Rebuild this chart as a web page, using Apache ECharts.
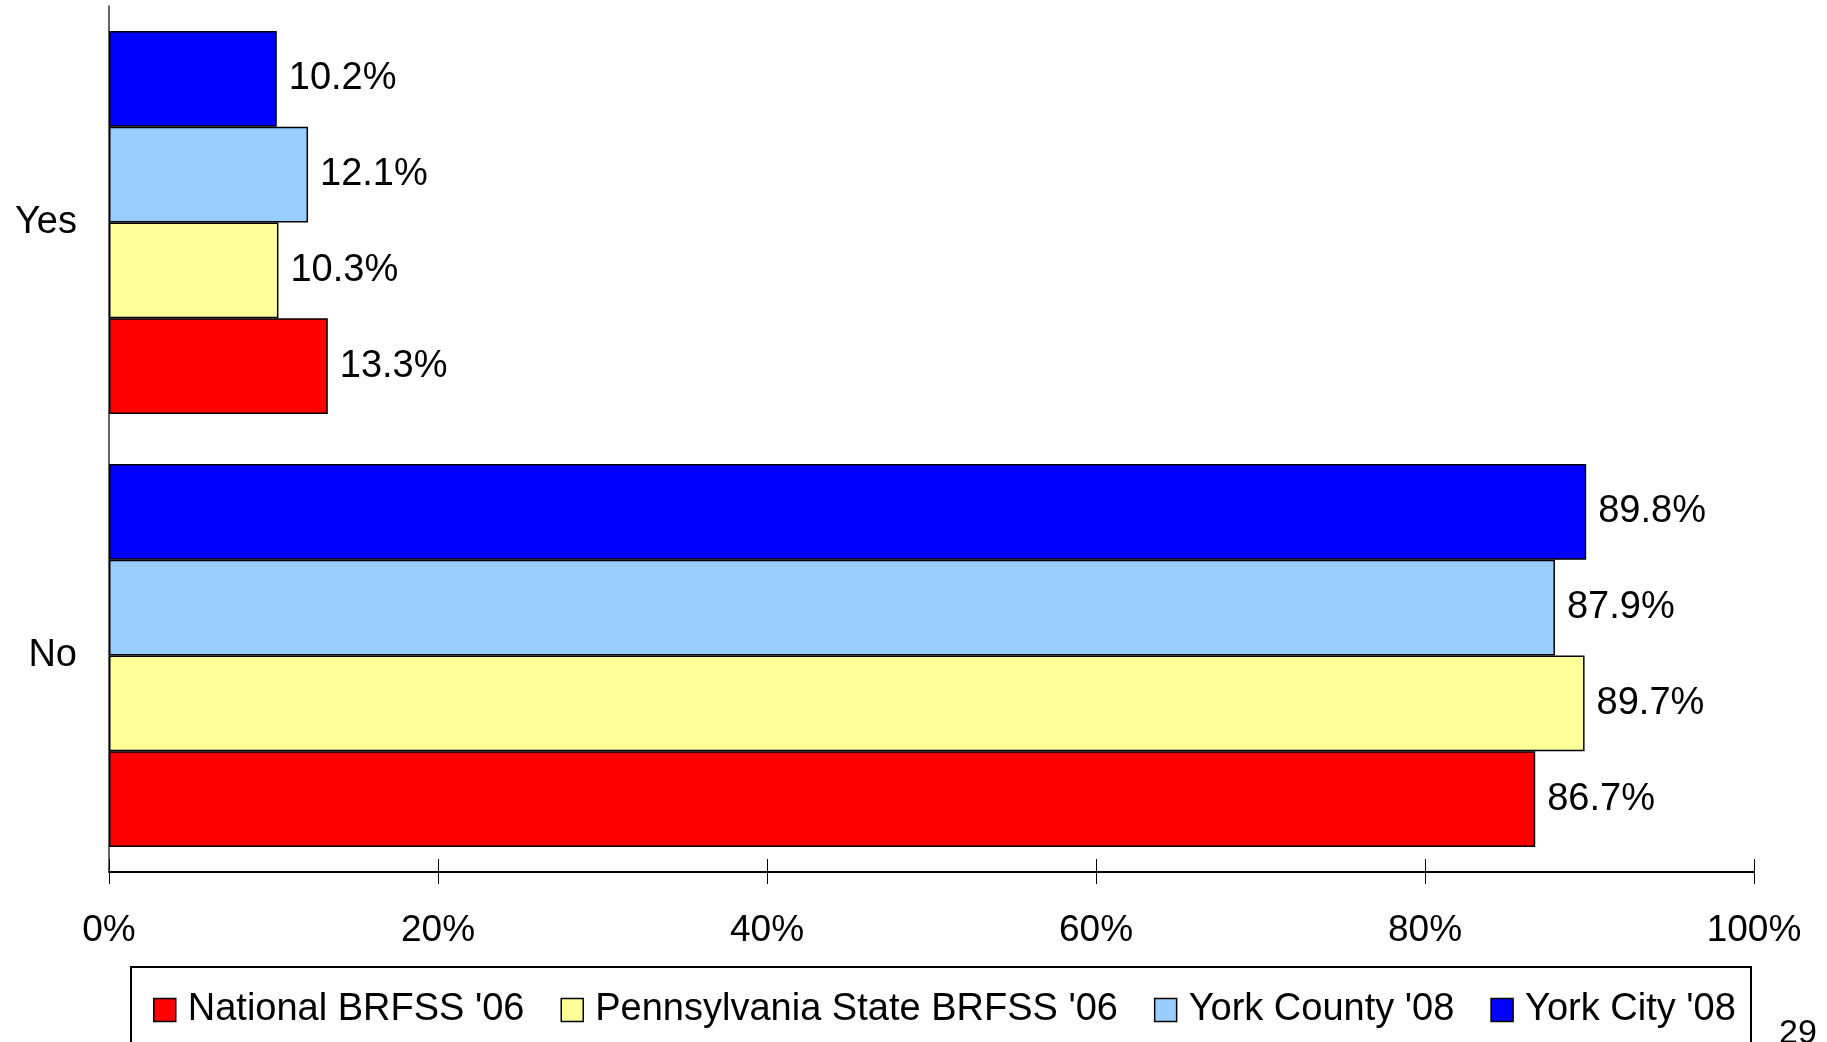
<!DOCTYPE html>
<html>
<head>
<meta charset="utf-8">
<script src="https://cdn.jsdelivr.net/npm/echarts@6/dist/echarts.min.js"></script>
<style>
html,body{margin:0;padding:0;background:#fff;}
#c{width:1827px;height:1042px;}
</style>
</head>
<body>
<div id="c"></div>
<script>
const categories = ['Yes', 'No'];
const seriesNames = ["National BRFSS '06", "Pennsylvania State BRFSS '06", "York County '08", "York City '08"];
const nationalValues = [13.3, 86.7];
const pennsylvaniaValues = [10.3, 89.7];
const yorkCountyValues = [12.1, 87.9];
const yorkCityValues = [10.2, 89.8];
const xTicks = [0, 20, 40, 60, 80, 100];
const colors = ['#FF0000', '#FFFF99', '#99CCFF', '#0000FF'];

const FONT = "'Liberation Sans', Arial, sans-serif";
const chart = echarts.init(document.getElementById('c'), null, {renderer: 'canvas'});
const allValues = [nationalValues, pennsylvaniaValues, yorkCountyValues, yorkCityValues];

// Built in reverse so that York City sits at the top of each category band
const series = seriesNames.map((name, i) => ({
  name: name,
  type: 'bar',
  data: allValues[i],
  barGap: '0%',
  barCategoryGap: '11.5%',
  itemStyle: {color: colors[i], borderColor: '#000', borderWidth: 1.5},
  label: {
    show: true, position: 'right', distance: 12,
    formatter: p => p.value.toFixed(1) + '%',
    color: '#000', fontSize: 38, fontFamily: FONT
  },
  emphasis: {disabled: true},
  animation: false
})).reverse();

chart.setOption({
  animation: false,
  backgroundColor: '#fff',
  grid: {left: 109, right: 73, top: 6, bottom: 170, containLabel: false},
  xAxis: [{
    type: 'value', min: xTicks[0], max: xTicks[xTicks.length - 1], interval: 20,
    axisLine: {show: true, lineStyle: {color: '#000', width: 2}},
    axisTick: {show: true, length: 12, lineStyle: {color: '#000', width: 1}},
    axisLabel: {formatter: '{value}%', color: '#000', fontSize: 37, fontFamily: FONT, margin: 40},
    splitLine: {show: false}
  }, {
    type: 'value', position: 'bottom', min: xTicks[0], max: xTicks[xTicks.length - 1], interval: 20,
    axisLine: {show: false},
    axisTick: {show: true, inside: true, length: 13, lineStyle: {color: '#000', width: 1}},
    axisLabel: {show: false},
    splitLine: {show: false}
  }],
  yAxis: {
    type: 'category', data: categories, inverse: true,
    axisLine: {show: true, lineStyle: {color: '#333', width: 1.5}},
    axisTick: {show: false},
    axisLabel: {color: '#000', fontSize: 38, fontFamily: FONT, margin: 32}
  },
  legend: {
    data: seriesNames,
    left: 148, top: 986,
    icon: 'rect',
    itemWidth: 22, itemHeight: 23,
    itemGap: 36,
    itemStyle: {borderColor: '#000', borderWidth: 1.5},
    textStyle: {color: '#000', fontSize: 38, fontFamily: FONT, padding: [0, 0, 0, 7]},
    selectedMode: false
  },
  graphic: [
    {type: 'rect', silent: true, shape: {x: 131, y: 967, width: 1620, height: 120},
     style: {fill: 'none', stroke: '#000', lineWidth: 2}},
    {type: 'text', silent: true, left: 1779, top: 1017,
     style: {text: '29', fill: '#000', fontSize: 34, fontFamily: FONT}}
  ],
  series: series
});
</script>
</body>
</html>
